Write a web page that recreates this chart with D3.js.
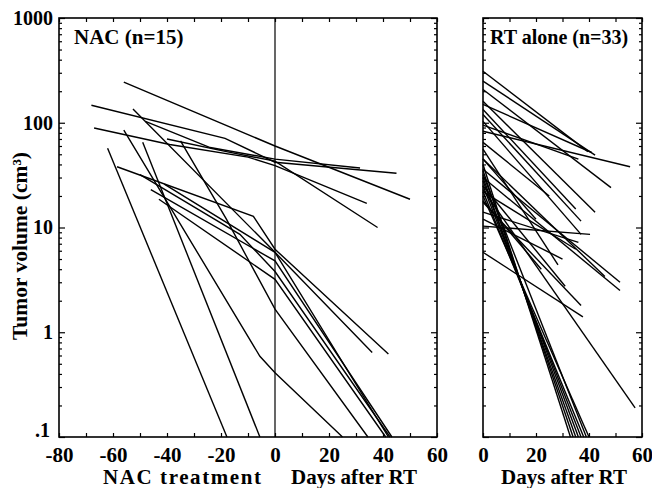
<!DOCTYPE html>
<html><head><meta charset="utf-8">
<script src="https://cdn.jsdelivr.net/npm/d3@7"></script>
<style>
html,body{margin:0;padding:0;background:#fff;}
text{font-family:"Liberation Serif","Times New Roman",serif;font-weight:bold;fill:#000;}
</style></head>
<body><svg id="c" width="652" height="488"></svg>
<script>
// ---- data ----
const yTickValues = [0.1, 1, 10, 100, 1000];
const yTickLabels = [".1", "1", "10", "100", "1000"];
const xTicksNAC = [-80, -60, -40, -20, 0, 20, 40, 60];
const xTicksRT = [0, 20, 40, 60];
const panelTitles = ["NAC (n=15)", "RT alone (n=33)"];
const xTitlesNAC = ["NAC treatment", "Days after RT"];
const xTitleRT = "Days after RT";
const yTitle = "Tumor volume (cm³)";

// NAC patients: [day, volume] (day 0 = start of RT)
const nacDays = [
  [-56, 0, 50],
  [-68, -18.5, 0, 45],
  [-67, -39, -10, 0, 34],
  [-40, -18, 0, 38],
  [-48, -24, 0, 31.5],
  [-52.6, 0, 42],
  [-58.5, -8, 0, 42],
  [-50, -13, 0, 42.6],
  [-62, -17.8],
  [-49, -5.6],
  [-56, -5.6, 0, 25],
  [-35, -18, 0, 34.4],
  [-41, 0, 36],
  [-46, 0, 43.3],
  [-43, 0, 41]
];
const nacVolumes = [
  [244, 60, 18.6],
  [147, 71, 42, 33],
  [89, 62, 47, 39, 17],
  [70, 53, 43, 10],
  [103, 58, 45, 37],
  [135, 5.8, 0.1],
  [38, 12.8, 6.2, 0.62],
  [32, 8.6, 3.8, 0.1],
  [57, 0.1],
  [65, 0.1],
  [85, 0.59, 0.41, 0.1],
  [67, 12, 1.66, 0.1],
  [26, 5.8, 0.64],
  [23, 4.8, 0.1],
  [18.6, 3.2, 0.1]
];

// RT alone patients: start volume at day 0, end day, end volume
const rtStart = [310, 250, 208, 160, 134, 120, 103, 83, 150, 56, 45, 36, 30, 25, 22, 17.4, 14, 10.3,
                 5.8, 23, 40, 35, 30, 28, 25, 22, 32, 20, 65, 45, 18, 12, 95];
const rtEndDay = [39.6, 42.3, 48.3, 42.3, 35, 37, 37, 55.5, 41, 28.3, 46, 51.7, 51.7, 31, 35, 37, 36, 40.4,
                  37.7, 57.4, 33, 34, 35, 36, 37, 38, 39, 40, 25, 20, 22, 30, 36];
const rtEndVol = [53, 49, 24, 14, 15, 11.5, 8.6, 38, 52, 4.4, 3.4, 3.0, 2.5, 2.75, 6.2, 1.8, 7.2, 8.6,
                  1.4, 0.19, 0.1, 0.1, 0.1, 0.1, 0.1, 0.1, 0.1, 0.1, 20, 12, 4, 5, 45];

// ---- drawing ----
const svg = d3.select("#c");
const yTop = 18, yBot = 437;
const y = d3.scaleLog().domain([0.1, 1000]).range([yBot, yTop]);
const xL = d3.scaleLinear().domain([-80, 60]).range([59, 437]);
const xR = d3.scaleLinear().domain([0, 60]).range([483, 642]);

const minorY = [];
for (let e = -1; e < 3; e++) for (let k = 2; k <= 9; k++) minorY.push(k * Math.pow(10, e));

function frame(x) {
  const [x0, x1] = x.range();
  const g = svg.append("g");
  g.append("g").attr("transform", `translate(${x0},0)`)
    .call(d3.axisRight(y).tickValues(minorY).tickSize(3).tickFormat(""));
  g.append("g").attr("transform", `translate(${x1},0)`)
    .call(d3.axisLeft(y).tickValues(minorY).tickSize(3).tickFormat(""));
  g.append("g").attr("transform", `translate(${x0},0)`)
    .call(d3.axisRight(y).tickValues(yTickValues).tickSize(6).tickFormat(""));
  g.append("g").attr("transform", `translate(${x1},0)`)
    .call(d3.axisLeft(y).tickValues(yTickValues).tickSize(6).tickFormat(""));
  const [d0, d1] = x.domain();
  const xt = d3.range(d0, d1 + 1, 10);
  g.append("g").attr("transform", `translate(0,${yBot})`)
    .call(d3.axisTop(x).tickValues(xt).tickSize(4).tickFormat(""));
  g.append("g").attr("transform", `translate(0,${yTop})`)
    .call(d3.axisBottom(x).tickValues(xt).tickSize(4).tickFormat(""));
  g.selectAll(".domain").remove();
  g.selectAll("line").attr("stroke", "#000").attr("stroke-width", 1.2);
  svg.append("rect").attr("x", x0).attr("y", yTop).attr("width", x1 - x0).attr("height", yBot - yTop)
    .attr("fill", "none").attr("stroke", "#000").attr("stroke-width", 1.6);
}
frame(xL);
frame(xR);

// tick labels
const axL = svg.append("g").attr("transform", `translate(0,${yBot})`)
  .call(d3.axisBottom(xL).tickValues(xTicksNAC).tickSize(0).tickPadding(10).tickFormat(d => d));
const axR = svg.append("g").attr("transform", `translate(0,${yBot})`)
  .call(d3.axisBottom(xR).tickValues(xTicksRT).tickSize(0).tickPadding(10).tickFormat(d => d));
const axY = svg.append("g").attr("transform", `translate(${xL.range()[0]},0)`)
  .call(d3.axisLeft(y).tickValues(yTickValues).tickSize(0).tickPadding(6)
    .tickFormat((d, i) => yTickLabels[i]));
[axL, axR].forEach(a => {
  a.select(".domain").remove();
  a.selectAll("text").attr("font-size", 21).attr("font-family", "Liberation Serif").attr("font-weight", "bold").attr("fill", "#000");
});
axY.select(".domain").remove();
axY.selectAll("text").attr("font-size", 20).attr("font-family", "Liberation Serif").attr("font-weight", "bold").attr("fill", "#000");
// lift the ".1" label a little so it clears "-80" (as in the reference)
axY.selectAll(".tick").filter(d => d === 0.1).select("text").attr("dy", "-0.05em").attr("x", -9);

// zero line in NAC panel
svg.append("line").attr("x1", xL(0)).attr("x2", xL(0)).attr("y1", yTop).attr("y2", yBot)
  .attr("stroke", "#000").attr("stroke-width", 1.2);

// data lines
const lineL = d3.line().x(d => xL(d[0])).y(d => y(d[1]));
const lineR = d3.line().x(d => xR(d[0])).y(d => y(d[1]));
const gl = svg.append("g").attr("fill", "none").attr("stroke", "#000").attr("stroke-width", 1.4);
nacDays.forEach((days, i) => {
  const pts = days.map((d, j) => [d, nacVolumes[i][j]]);
  gl.append("path").attr("d", lineL(pts));
});
rtStart.forEach((v, i) => {
  gl.append("path").attr("d", lineR([[0, v], [rtEndDay[i], rtEndVol[i]]]));
});

// titles
svg.append("text").attr("x", 74).attr("y", 44).attr("font-size", 21).text(panelTitles[0]);
svg.append("text").attr("x", 490).attr("y", 44).attr("font-size", 20).text(panelTitles[1]);
svg.append("text").attr("x", 103).attr("y", 484).attr("font-size", 21)
  .attr("textLength", 158).attr("lengthAdjust", "spacing").text(xTitlesNAC[0]);
svg.append("text").attr("x", 354).attr("y", 484).attr("font-size", 21).attr("text-anchor", "middle").text(xTitlesNAC[1]);
svg.append("text").attr("x", 564).attr("y", 484).attr("font-size", 21).attr("text-anchor", "middle").text(xTitleRT);
svg.append("text").attr("transform", "translate(27,246) rotate(-90)").attr("font-size", 21.5)
  .attr("text-anchor", "middle").text(yTitle);
</script></body></html>
